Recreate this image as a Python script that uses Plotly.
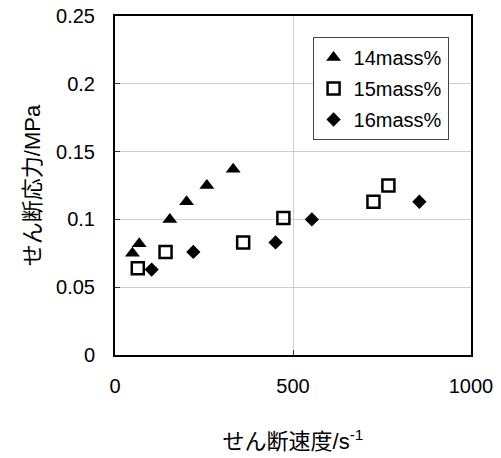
import plotly.graph_objects as go

x14 = [49, 68, 154, 201, 258, 332]
y14 = [0.075, 0.082, 0.100, 0.113, 0.125, 0.137]
x15 = [64, 142, 360, 473, 726, 768]
y15 = [0.064, 0.076, 0.083, 0.101, 0.113, 0.125]
x16 = [103, 220, 451, 553, 855]
y16 = [0.063, 0.076, 0.083, 0.100, 0.113]

xticks = [0, 500, 1000]
yticks = [0, 0.05, 0.1, 0.15, 0.2, 0.25]
yticktext = ["0", "0.05", "0.1", "0.15", "0.2", "0.25"]

font = "Liberation Sans, Arial, Noto Sans CJK JP, sans-serif"
fig = go.Figure()
fig.add_trace(go.Scatter(x=x14, y=y14, mode="markers", name="14mass%", legendgroup="a",
                         marker=dict(symbol="triangle-up", size=13, color="black")))
fig.add_trace(go.Scatter(x=x15, y=y15, mode="markers", name="15mass%", legendgroup="b",
                         marker=dict(symbol="square-open", size=12, color="black", line=dict(width=2.5))))
fig.add_trace(go.Scatter(x=x16, y=y16, mode="markers", name="16mass%", legendgroup="c",
                         marker=dict(symbol="diamond", size=11, color="black")))

fig.update_layout(
    width=501, height=458,
    margin=dict(l=115, r=30, t=16, b=103, autoexpand=False),
    paper_bgcolor="white", plot_bgcolor="white",
    font=dict(family=font, size=20, color="black"),
    showlegend=True,
    legend=dict(x=0.555, y=0.938, xanchor="left", yanchor="top",
                bordercolor="#444", borderwidth=1, bgcolor="white",
                font=dict(size=20), itemwidth=30, tracegroupgap=2),
    xaxis=dict(range=[0, 1000], tickvals=xticks, ticktext=[str(v) for v in xticks],
               showgrid=True, gridcolor="#d0d0d0", gridwidth=1,
               showline=True, linecolor="black", linewidth=2, mirror=True,
               ticks="inside", ticklen=5, tickcolor="#333", zeroline=False,
               ticklabelstandoff=12, ticklabeloverflow="allow",
               title=dict(text="せん断速度/s<sup>-1</sup>", standoff=38, font=dict(size=22)),
               tickfont=dict(size=20)),
    yaxis=dict(range=[0, 0.25], tickvals=yticks, ticktext=yticktext,
               showgrid=True, gridcolor="#d0d0d0", gridwidth=1,
               showline=True, linecolor="black", linewidth=2, mirror=True,
               ticks="inside", ticklen=5, tickcolor="#333", zeroline=False,
               ticklabelstandoff=14, ticklabeloverflow="allow",
               title=dict(text="せん断応力/MPa", standoff=9, font=dict(size=22)),
               tickfont=dict(size=20)),
)
fig.write_html("out.html", config={"displayModeBar": False},
               post_script="document.body.style.margin='0';document.documentElement.style.overflow='hidden';")
